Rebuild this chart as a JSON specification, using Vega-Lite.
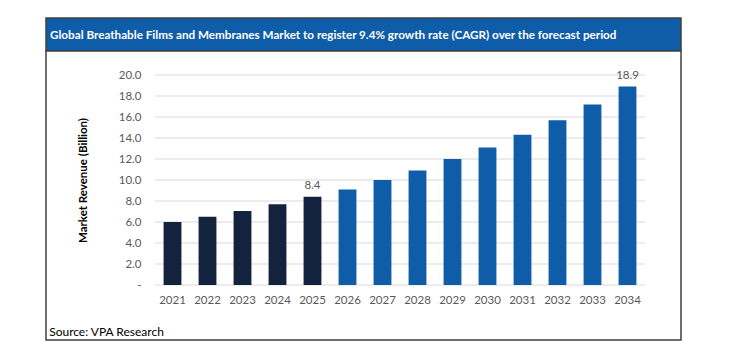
{
  "$schema": "https://vega.github.io/schema/vega-lite/v6.json",
  "padding": {"left": 45, "top": 17, "right": 0, "bottom": 0},
  "background": "white",
  "spacing": 0,
  "bounds": "flush",
  "config": {"view": {"stroke": "#404040", "strokeWidth": 1.5}, "font": "Lato", "axis": {"labelOverlap": false}, "axisY": {"labelOverlap": false}},
  "vconcat": [
    {
      "width": 635,
      "height": 33,
      "view": {"fill": "#0f5ca8", "stroke": "#404040", "strokeWidth": 1.5},
      "data": {"values": [{"title": "Global Breathable Films and Membranes Market to register 9.4% growth rate (CAGR) over the forecast period", "pos": 0}]},
      "mark": {"type": "text", "align": "left", "baseline": "middle", "color": "white", "fontWeight": "bold", "fontSize": 11.7, "dx": 4, "font": "Lato"},
      "encoding": {
        "text": {"field": "title"},
        "x": {"field": "pos", "type": "quantitative", "scale": {"domain": [0, 1]}, "axis": null}
      }
    },
    {
      "width": 635,
      "height": 289,
      "view": {"fill": "white", "stroke": "#404040", "strokeWidth": 1.5},
      "resolve": {"scale": {"x": "independent"}},
      "layer": [
        {
          "data": {"values": [{"g": 0}, {"g": 2}, {"g": 4}, {"g": 6}, {"g": 8}, {"g": 10}, {"g": 12}, {"g": 14}, {"g": 16}, {"g": 18}, {"g": 20}]},
          "mark": {"type": "rule", "color": "#d9d9d9", "strokeWidth": 1},
          "encoding": {
            "y": {"field": "g", "type": "quantitative", "scale": {"domain": [0, 20], "range": [234, 24]},
              "axis": {"values": [0, 2, 4, 6, 8, 10, 12, 14, 16, 18, 20], "tickCount": 11, "labelExpr": "datum.value == 0 ? '-' : format(datum.value, '.1f')",
                "labelOverlap": false, "offset": -97, "domain": false, "ticks": false, "grid": false, "labelPadding": 2,
                "labelFont": "Lato", "labelFontSize": 11.5, "labelColor": "#595959",
                "title": "Market Revenue (Billion)", "titleFont": "Lato", "titleFontSize": 11.5, "titleFontWeight": "bold", "titleColor": "#000000",
                "titleX": -60, "titleY": 129, "titleAlign": "center", "titleBaseline": "middle", "titleAngle": -90}},
            "x": {"datum": 0, "type": "quantitative", "scale": {"domain": [0, 1], "range": [109, 599]}, "axis": null},
            "x2": {"datum": 1}
          }
        },
        {
          "data": {"values": [
            {"year": "2021", "value": 6.0, "period": "Historical"},
            {"year": "2022", "value": 6.5, "period": "Historical"},
            {"year": "2023", "value": 7.05, "period": "Historical"},
            {"year": "2024", "value": 7.7, "period": "Historical"},
            {"year": "2025", "value": 8.4, "period": "Historical", "label": "8.4"},
            {"year": "2026", "value": 9.1, "period": "Forecast"},
            {"year": "2027", "value": 10.0, "period": "Forecast"},
            {"year": "2028", "value": 10.9, "period": "Forecast"},
            {"year": "2029", "value": 12.0, "period": "Forecast"},
            {"year": "2030", "value": 13.1, "period": "Forecast"},
            {"year": "2031", "value": 14.3, "period": "Forecast"},
            {"year": "2032", "value": 15.7, "period": "Forecast"},
            {"year": "2033", "value": 17.2, "period": "Forecast"},
            {"year": "2034", "value": 18.9, "period": "Forecast", "label": "18.9"}
          ]},
          "layer": [
            {
              "mark": {"type": "bar"},
              "encoding": {
                "x": {"field": "year", "type": "nominal", "sort": null,
                  "scale": {"range": [109, 599], "paddingInner": 0.49, "paddingOuter": 0.245},
                  "axis": {"title": null, "orient": "bottom", "offset": -55, "domain": false, "ticks": false, "labelAngle": 0,
                    "labelPadding": 9, "labelFont": "Lato", "labelFontSize": 11.5, "labelColor": "#595959"}},
                "y": {"field": "value", "type": "quantitative"},
                "color": {"field": "period", "type": "nominal", "scale": {"domain": ["Historical", "Forecast"], "range": ["#13233d", "#0f5ca8"]}, "legend": null}
              }
            },
            {
              "transform": [{"filter": "datum.label != null"}],
              "mark": {"type": "text", "baseline": "middle", "dy": -11, "font": "Lato", "fontSize": 11.5, "color": "#595959"},
              "encoding": {
                "x": {"field": "year", "type": "nominal", "sort": null},
                "y": {"field": "value", "type": "quantitative"},
                "text": {"field": "label"}
              }
            }
          ]
        },
        {
          "data": {"values": [{"src": "Source: VPA Research", "sx": -0.216, "sy": -4.48}]},
          "mark": {"type": "text", "align": "left", "baseline": "middle", "font": "Lato", "fontSize": 12, "color": "#000000"},
          "encoding": {
            "x": {"field": "sx", "type": "quantitative", "scale": {"domain": [0, 1], "range": [109, 599]}, "axis": null},
            "y": {"field": "sy", "type": "quantitative"},
            "text": {"field": "src"}
          }
        }
      ]
    }
  ]
}
